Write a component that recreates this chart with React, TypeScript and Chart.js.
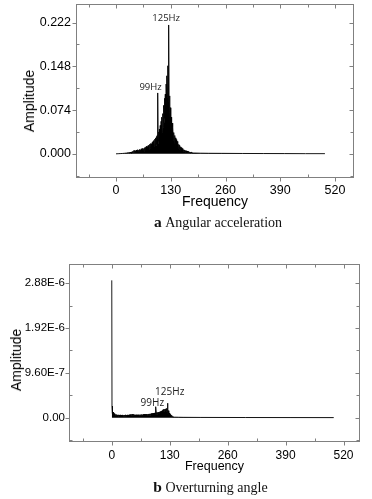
import React, { useEffect, useRef } from "react";
import { Chart, registerables } from "chart.js";

Chart.register(...registerables);

// ---------- axes ----------
const xMajorTicks = [0, 130, 260, 390, 520];
const xMinorTicks = [-65, 65, 195, 325, 455];
const xTickLabels = ["0", "130", "260", "390", "520"];

const yMajorA = [0, 0.074, 0.148, 0.222];
const yMinorA = [-0.037, 0.037, 0.111, 0.185];
const yLabelsA = ["0.000", "0.074", "0.148", "0.222"];

const yMajorB = [0, 9.6e-7, 1.92e-6, 2.88e-6];
const yMinorB = [-4.8e-7, 4.8e-7, 1.44e-6, 2.4e-6];
const yLabelsB = ["0.00", "9.60E-7", "1.92E-6", "2.88E-6"];

// ---------- (a) angular acceleration spectrum ----------
const freqA = [
  0, 5, 10, 15, 20, 25,
  30, 31, 32, 33, 34, 35, 36, 37, 38, 39,
  40, 41, 42, 43, 44, 45, 46, 47, 48, 49,
  50, 51, 52, 53, 54, 55, 56, 57, 58, 59,
  60, 61, 62, 63, 64, 65, 66, 67, 68, 69,
  70, 71, 72, 73, 74, 75, 76, 77, 78, 79,
  80, 81, 82, 83, 84, 85, 86, 87, 88, 89,
  90, 91, 92, 93, 94, 95, 96, 97, 98, 99,
  100, 101, 102, 103, 104, 105, 106, 107, 108, 109,
  110, 111, 112, 113, 114, 115, 116, 117, 118, 119,
  120, 121, 122, 123, 124, 125, 126, 127, 128, 129,
  130, 131, 132, 133, 134, 135, 136, 137, 138, 139,
  140, 141, 142, 143, 144, 145, 146, 147, 148, 149,
  150, 151, 152, 153, 154, 155, 156, 157, 158, 159,
  160, 161, 162, 163, 164, 165, 166, 167, 168, 169,
  170, 171, 172, 173, 174, 175, 176, 177, 178, 179,
  180, 190, 200, 220, 250, 300, 350, 400, 450, 496,
];
const ampA = [
  0, 0.0002, 0.0004, 0.0006, 0.0009, 0.0013,
  0.002, 0.001, 0.0025, 0.0012, 0.003, 0.0015, 0.0028, 0.001, 0.0035, 0.0018,
  0.004, 0.002, 0.0055, 0.0025, 0.006, 0.003, 0.0045, 0.002, 0.0065, 0.003,
  0.0058, 0.0025, 0.007, 0.0035, 0.0062, 0.003, 0.0075, 0.004, 0.0068, 0.0032,
  0.0085, 0.004, 0.0078, 0.0045, 0.0095, 0.005, 0.0088, 0.0042, 0.0105, 0.0055,
  0.0112, 0.005, 0.0125, 0.006, 0.0118, 0.0065, 0.0138, 0.007, 0.0145, 0.0068,
  0.0162, 0.0082, 0.0175, 0.009, 0.0168, 0.0095, 0.0192, 0.0105, 0.021, 0.011,
  0.0225, 0.012, 0.0248, 0.0135, 0.027, 0.0142, 0.0295, 0.016, 0.032, 0.103,
  0.018, 0.037, 0.021, 0.042, 0.024, 0.048, 0.028, 0.055, 0.032, 0.062,
  0.036, 0.068, 0.045, 0.082, 0.052, 0.094, 0.06, 0.101, 0.072, 0.118,
  0.085, 0.132, 0.095, 0.149, 0.088, 0.218, 0.07, 0.098, 0.052, 0.078,
  0.04, 0.062, 0.032, 0.052, 0.026, 0.044, 0.022, 0.036, 0.018, 0.031,
  0.015, 0.027, 0.013, 0.024, 0.011, 0.021, 0.0095, 0.018, 0.008, 0.016,
  0.007, 0.0145, 0.006, 0.012, 0.0055, 0.0105, 0.005, 0.009, 0.0045, 0.008,
  0.004, 0.007, 0.0035, 0.0062, 0.003, 0.0055, 0.0028, 0.005, 0.0025, 0.0045,
  0.0022, 0.004, 0.002, 0.0036, 0.0018, 0.0032, 0.0016, 0.0028, 0.0015, 0.0025,
  0.0014, 0.0013, 0.0011, 0.0009, 0.0008, 0.0006, 0.0005, 0.0004, 0.0003, 0.0003,
];
const peakTextA = ["125Hz", "99Hz"];
const peakFreqA = [119, 82];
const peakAmpA = [0.229, 0.112];

// ---------- (b) overturning angle spectrum (amplitudes in 1e-6) ----------
const freqB = [
  0, 0.5,
  1, 2, 3, 4, 5, 6, 7, 8, 9, 10,
  11, 12, 13, 14, 15, 16, 17, 18, 19, 20,
  21, 22, 23, 24, 25, 26, 27, 28, 29, 30,
  31, 32, 33, 34, 35, 36, 37, 38, 39, 40,
  41, 42, 43, 44, 45, 46, 47, 48, 49, 50,
  51, 52, 53, 54, 55, 56, 57, 58, 59, 60,
  61, 62, 63, 64, 65, 66, 67, 68, 69, 70,
  71, 72, 73, 74, 75, 76, 77, 78, 79, 80,
  81, 82, 83, 84, 85, 86, 87, 88, 89, 90,
  91, 92, 93, 94, 95, 96, 97, 98, 99, 100,
  101, 102, 103, 104, 105, 106, 107, 108, 109, 110,
  111, 112, 113, 114, 115, 116, 117, 118, 119, 120,
  121, 122, 123, 124, 125, 126, 127, 128, 129, 130,
  131, 132, 133, 134, 135, 136, 137, 138, 139, 140,
  150, 160, 200, 300, 400, 498,
];
const ampBMicro = [
  2.94, 0.25,
  0.16, 0.09, 0.12, 0.06, 0.09, 0.05, 0.08, 0.04, 0.07, 0.04,
  0.065, 0.035, 0.06, 0.03, 0.062, 0.035, 0.058, 0.03, 0.06, 0.032,
  0.055, 0.03, 0.058, 0.033, 0.06, 0.03, 0.055, 0.032, 0.058, 0.03,
  0.062, 0.034, 0.057, 0.03, 0.06, 0.033, 0.058, 0.031, 0.062, 0.035,
  0.065, 0.036, 0.07, 0.038, 0.075, 0.04, 0.078, 0.042, 0.072, 0.04,
  0.065, 0.038, 0.06, 0.035, 0.062, 0.036, 0.06, 0.034, 0.063, 0.037,
  0.062, 0.036, 0.065, 0.038, 0.064, 0.04, 0.068, 0.04, 0.066, 0.042,
  0.07, 0.043, 0.072, 0.045, 0.07, 0.044, 0.074, 0.046, 0.076, 0.048,
  0.078, 0.05, 0.08, 0.052, 0.082, 0.053, 0.085, 0.055, 0.088, 0.056,
  0.09, 0.058, 0.095, 0.06, 0.1, 0.062, 0.105, 0.07, 0.235, 0.072,
  0.11, 0.075, 0.115, 0.08, 0.12, 0.085, 0.125, 0.09, 0.13, 0.1,
  0.14, 0.11, 0.15, 0.12, 0.17, 0.13, 0.18, 0.14, 0.185, 0.15,
  0.19, 0.13, 0.2, 0.11, 0.31, 0.09, 0.15, 0.06, 0.1, 0.04,
  0.07, 0.03, 0.05, 0.022, 0.035, 0.018, 0.025, 0.014, 0.018, 0.012,
  0.01, 0.008, 0.006, 0.004, 0.003, 0.002,
];
const peakTextB = ["125Hz", "99Hz"];
const peakFreqB = [130, 91];
const peakAmpBMicro = [0.556, 0.32];

const SANS = '"Liberation Sans", Arial, sans-serif';

const framePlugin = {
  id: "frameTicks",
  afterDraw(chart: any, _a: any, opts: any) {
    const { ctx, chartArea } = chart;
    const xs = chart.scales.x;
    const ys = chart.scales.y;
    const l = Math.round(chartArea.left) + 0.5;
    const r = Math.round(chartArea.right) - 0.5;
    const t = Math.round(chartArea.top) + 0.5;
    const b = Math.round(chartArea.bottom) - 0.5;
    ctx.save();
    ctx.strokeStyle = "#808080";
    ctx.lineWidth = 1;
    ctx.strokeRect(l, t, r - l, b - t);
    ctx.beginPath();
    const seg = (x1: number, y1: number, x2: number, y2: number) => {
      ctx.moveTo(x1, y1);
      ctx.lineTo(x2, y2);
    };
    for (const v of opts.xMajor) {
      const p = Math.round(xs.getPixelForValue(v)) + 0.5;
      if (p < l || p > r) continue;
      seg(p, b, p, b + 4);
      seg(p, t, p, t + 4);
    }
    for (const v of opts.xMinor) {
      const p = Math.round(xs.getPixelForValue(v)) + 0.5;
      if (p < l || p > r) continue;
      seg(p, b, p, b - 3);
      seg(p, t, p, t + 3);
    }
    for (const v of opts.yMajor) {
      const p = Math.round(ys.getPixelForValue(v)) + 0.5;
      if (p < t || p > b) continue;
      seg(l, p, l - 4, p);
      seg(r, p, r - 4, p);
    }
    for (const v of opts.yMinor) {
      const p = Math.round(ys.getPixelForValue(v)) + 0.5;
      if (p < t || p > b) continue;
      seg(l, p, l + 3, p);
      seg(r, p, r - 3, p);
    }
    ctx.stroke();
    ctx.restore();
  },
};

const peakPlugin = {
  id: "peakLabels",
  afterDatasetsDraw(chart: any, _a: any, opts: any) {
    const { ctx } = chart;
    const xs = chart.scales.x;
    const ys = chart.scales.y;
    ctx.save();
    ctx.font = `${opts.size}px "Open Sans", "Liberation Sans", sans-serif`;
    ctx.fillStyle = "#222";
    ctx.textAlign = "center";
    ctx.textBaseline = "middle";
    opts.texts.forEach((txt: string, i: number) => {
      ctx.fillText(txt, xs.getPixelForValue(opts.freqs[i]), ys.getPixelForValue(opts.amps[i]));
    });
    ctx.restore();
  },
};

type Spec = {
  width: number;
  height: number;
  freq: number[];
  amp: number[];
  xMin: number;
  xMax: number;
  yMin: number;
  yMax: number;
  yMajor: number[];
  yMinor: number[];
  yLabels: string[];
  yAxisWidth: number;
  xAxisHeight: number;
  padding: { left: number; top: number; right: number; bottom: number };
  yTickSize: number;
  xTickSize: number;
  yTickPad: number;
  xTickPad: number;
  xTitleSize: number;
  xTitlePadBottom: number;
  peakTexts: string[];
  peakFreqs: number[];
  peakAmps: number[];
  peakSize: number;
};

function Spectrum({ spec }: { spec: Spec }) {
  const ref = useRef<HTMLCanvasElement | null>(null);
  useEffect(() => {
    if (!ref.current) return;
    const s = spec;
    const points = s.freq.map((f, i) => ({ x: f, y: s.amp[i] }));
    const chart = new Chart(ref.current, {
      type: "line",
      data: {
        datasets: [
          {
            data: points,
            borderColor: "#000",
            backgroundColor: "#000",
            borderWidth: 0.9,
            pointRadius: 0,
            tension: 0,
            fill: "origin",
          },
        ],
      },
      options: {
        responsive: false,
        animation: false,
        events: [],
        layout: { padding: s.padding },
        plugins: {
          legend: { display: false },
          tooltip: { enabled: false },
          frameTicks: { xMajor: xMajorTicks, xMinor: xMinorTicks, yMajor: s.yMajor, yMinor: s.yMinor },
          peakLabels: { texts: s.peakTexts, freqs: s.peakFreqs, amps: s.peakAmps, size: s.peakSize },
        } as any,
        scales: {
          x: {
            type: "linear",
            min: s.xMin,
            max: s.xMax,
            grid: { display: false, drawTicks: false, tickLength: 0 },
            border: { display: false },
            afterBuildTicks: (sc: any) => {
              sc.ticks = xMajorTicks.map((v) => ({ value: v }));
            },
            afterFit: (sc: any) => {
              sc.height = s.xAxisHeight;
              sc.paddingLeft = 0;
              sc.paddingRight = 0;
            },
            ticks: {
              autoSkip: false,
              maxRotation: 0,
              padding: s.xTickPad,
              color: "#000",
              font: { family: SANS, size: s.xTickSize },
              callback: (_v: any, i: number) => xTickLabels[i],
            },
            title: {
              display: true,
              text: "Frequency",
              color: "#000",
              font: { family: SANS, size: s.xTitleSize },
              padding: { top: 0, bottom: s.xTitlePadBottom },
            },
          },
          y: {
            type: "linear",
            min: s.yMin,
            max: s.yMax,
            grid: { display: false, drawTicks: false, tickLength: 0 },
            border: { display: false },
            afterBuildTicks: (sc: any) => {
              sc.ticks = s.yMajor.map((v) => ({ value: v }));
            },
            afterFit: (sc: any) => {
              sc.width = s.yAxisWidth;
              sc.paddingTop = 0;
              sc.paddingBottom = 0;
            },
            ticks: {
              autoSkip: false,
              padding: s.yTickPad,
              color: "#000",
              font: { family: SANS, size: s.yTickSize },
              callback: (_v: any, i: number) => s.yLabels[i],
            },
          },
        },
      },
      plugins: [framePlugin, peakPlugin],
    });
    return () => chart.destroy();
  }, [spec]);
  return (
    <canvas
      ref={ref}
      width={spec.width}
      height={spec.height}
      style={{ display: "block", width: spec.width, height: spec.height }}
    />
  );
}

const specA: Spec = {
  width: 372,
  height: 250,
  freq: freqA,
  amp: ampA,
  xMin: -95,
  xMax: 565,
  yMin: -0.0409,
  yMax: 0.2535,
  yMajor: yMajorA,
  yMinor: yMinorA,
  yLabels: yLabelsA,
  yAxisWidth: 76,
  xAxisHeight: 72,
  padding: { left: 0, top: 4, right: 18, bottom: 0 },
  yTickSize: 12.5,
  xTickSize: 12.5,
  yTickPad: 5,
  xTickPad: 5.5,
  xTitleSize: 14,
  xTitlePadBottom: 39.6,
  peakTexts: peakTextA,
  peakFreqs: peakFreqA,
  peakAmps: peakAmpA,
  peakSize: 9.5,
};

const specB: Spec = {
  width: 372,
  height: 249,
  freq: freqB,
  amp: ampBMicro.map((v) => v * 1e-6),
  xMin: -96,
  xMax: 557,
  yMin: -5.2e-7,
  yMax: 3.29e-6,
  yMajor: yMajorB,
  yMinor: yMinorB,
  yLabels: yLabelsB,
  yAxisWidth: 69,
  xAxisHeight: 57,
  padding: { left: 0, top: 14, right: 12, bottom: 0 },
  yTickSize: 11.5,
  xTickSize: 12,
  yTickPad: 4,
  xTickPad: 6.5,
  xTitleSize: 12.5,
  xTitlePadBottom: 24.8,
  peakTexts: peakTextB,
  peakFreqs: peakFreqB,
  peakAmps: peakAmpBMicro.map((v) => v * 1e-6),
  peakSize: 10,
};

const yTitleStyle = (cx: number, cy: number): React.CSSProperties => ({
  position: "absolute",
  left: cx,
  top: cy,
  transform: "translate(-50%, -50%) rotate(-90deg)",
  whiteSpace: "nowrap",
  fontFamily: SANS,
  fontSize: 14,
  lineHeight: "16px",
  color: "#000",
});

const captionStyle = (cx: number, cy: number): React.CSSProperties => ({
  position: "absolute",
  left: cx,
  top: cy,
  transform: "translate(-50%, -50%)",
  whiteSpace: "nowrap",
  fontFamily: '"Liberation Serif", "Times New Roman", serif',
  fontSize: 14,
  lineHeight: "16px",
  color: "#111",
});

export default function App() {
  return (
    <div style={{ position: "absolute", left: 0, top: 0, width: 372, height: 499, background: "#fff", overflow: "hidden" }}>
      <div style={{ position: "absolute", left: 0, top: 0 }}>
        <Spectrum spec={specA} />
      </div>
      <div style={yTitleStyle(29, 101)}>Amplitude</div>
      <div style={captionStyle(218, 222)}>
        <b style={{ fontSize: 15.5 }}>a</b>&nbsp;Angular acceleration
      </div>
      <div style={{ position: "absolute", left: 0, top: 250 }}>
        <Spectrum spec={specB} />
      </div>
      <div style={yTitleStyle(16, 360)}>Amplitude</div>
      <div style={captionStyle(210.5, 487)}>
        <b style={{ fontSize: 15.5 }}>b</b>&nbsp;Overturning angle
      </div>
    </div>
  );
}
